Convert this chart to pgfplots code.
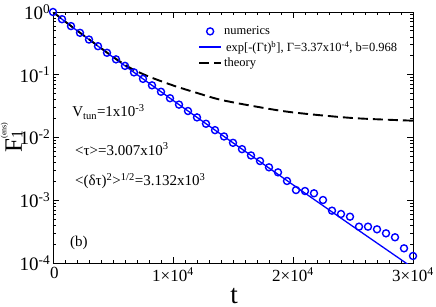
\documentclass[border=0pt]{standalone}
\usepackage{pgfplots}
\pgfplotsset{compat=1.18}
\usepackage{fontspec}
\setmainfont{Liberation Serif}
\definecolor{mblue}{RGB}{0,0,255}
\begin{document}
\begin{tikzpicture}
\begin{axis}[
  name=ax,
  scale only axis, width=360pt, height=251pt,
  ymode=log, xmin=0, xmax=30000, ymin=1e-4, ymax=1,
  axis line style={line width=0.9pt},
  tick style={line width=0.8pt, black},
  major tick length=6pt, minor tick length=3.5pt,
  tick align=inside,
  scaled x ticks=false,
  xtick={0,10000,20000,30000},
  xticklabels={\hspace{3pt}0, 1×10\textsuperscript{4}, 2×10\textsuperscript{4}, 3×10\textsuperscript{4}},
  minor x tick num=9,
  ytick={1e-4,1e-3,1e-2,1e-1,1},
  yticklabels={10\textsuperscript{-4},10\textsuperscript{-3},10\textsuperscript{-2},10\textsuperscript{-1},10\textsuperscript{0}},
  xticklabel style={font=\fontsize{17}{17}\selectfont, inner sep=2pt, yshift=-2pt},
  yticklabel style={font=\fontsize{19}{19}\selectfont, inner sep=2.5pt},
  xlabel={t},
  xlabel style={font=\fontsize{27}{27}\selectfont, inner sep=0pt, at={(axis description cs:0.503,-0.16)}, anchor=base},
  ylabel={F\rlap{\fontsize{16}{16}\selectfont\raisebox{-0.1ex}{1}}\raisebox{1.35ex}{\fontsize{8}{8}\selectfont (ens)}},
  ylabel style={font=\fontsize{25}{25}\selectfont, at={(axis description cs:-0.115,0.5)}, anchor=center},
  legend cell align=left,
  legend style={draw=none, fill=none, at={(rel axis cs:0.40,0.955)}, anchor=north west,
    font=\fontsize{12.5}{14}\selectfont, row sep=0.8pt, inner sep=1pt},
  legend image code/.code={\draw[mark repeat=2,mark phase=2,#1] plot coordinates {(0pt,0pt) (11pt,0pt) (22pt,0pt)};},
]
\addplot[only marks, mark=o, mark size=3.5pt, line width=1.4pt, color=mblue,
  mark options={line width=1.4pt}] coordinates {
(0,1) (750,0.7679) (1500,0.5965) (2250,0.4653) (3000,0.3640) (3750,0.2852)
(4500,0.2239) (5250,0.1760) (6000,0.1385) (6750,0.1091) (7500,0.08597)
(8250,0.06783) (9000,0.05355) (9750,0.04229) (10500,0.03343) (11250,0.02643)
(12000,0.02091) (12750,0.01656) (13500,0.01311) (14250,0.01039) (15000,0.008229)
(15750,0.006528) (16500,0.005176) (17250,0.00422) (18000,0.00335) (18750,0.002786)
(19500,0.002028) (20250,0.001455) (21000,0.001403) (21750,0.001291) (22500,0.001009)
(23250,6.823e-4) (24000,6.039e-4) (24750,5.470e-4) (25500,3.793e-4) (26250,3.793e-4)
(27000,3.443e-4) (27750,2.972e-4) (28500,2.570e-4) (29250,1.714e-4) (30000,1.294e-4)
};
\addlegendentry{numerics}
\addplot[color=mblue, line width=1.3pt, no marks] coordinates {
(0,1) (500,0.8366) (1000,0.7054) (2000,0.5053) (3000,0.3640) (5000,0.1907)
(7500,0.08597) (10000,0.03911) (15000,0.008229) (20000,0.001763) (25000,3.82e-4) (30000,8.36e-5)
};
\addlegendentry{\hspace{2pt}exp[-(Γt)\textsuperscript{b}], Γ=3.37x10\textsuperscript{-4}, b=0.968}
\addplot[black, line width=1.9pt, dash pattern=on 10pt off 5pt, no marks, smooth] coordinates {
(0,1) (1000,0.7079) (2000,0.5070) (3000,0.3673) (4000,0.2661) (5000,0.1928)
(6000,0.1445) (6667,0.1216) (8000,0.09333) (10000,0.06761) (12000,0.05129)
(14000,0.03981) (17000,0.03090) (20000,0.02512) (25000,0.02042) (30000,0.01854)
};
\addlegendentry{theory}
\node[anchor=base west, inner sep=0pt, font=\fontsize{15}{15}\selectfont] at (rel axis cs:0.053,0.582) {V\textsubscript{tun}=1x10\textsuperscript{-3}};
\node[anchor=base west, inner sep=0pt, font=\fontsize{15}{15}\selectfont] at (rel axis cs:0.061,0.43) {<τ>=3.007x10\textsuperscript{3}};
\node[anchor=base west, inner sep=0pt, font=\fontsize{15}{15}\selectfont] at (rel axis cs:0.061,0.307) {<(δτ)\textsuperscript{2}>\textsuperscript{1/2}=3.132x10\textsuperscript{3}};
\node[anchor=base west, inner sep=0pt, font=\fontsize{15}{15}\selectfont] at (rel axis cs:0.047,0.065) {(b)};
\end{axis}
\pgfresetboundingbox
\path[use as bounding box] ([shift={(-53pt,-43pt)}]ax.south west) rectangle ([shift={(23pt,12pt)}]ax.north east);
\end{tikzpicture}
\end{document}
